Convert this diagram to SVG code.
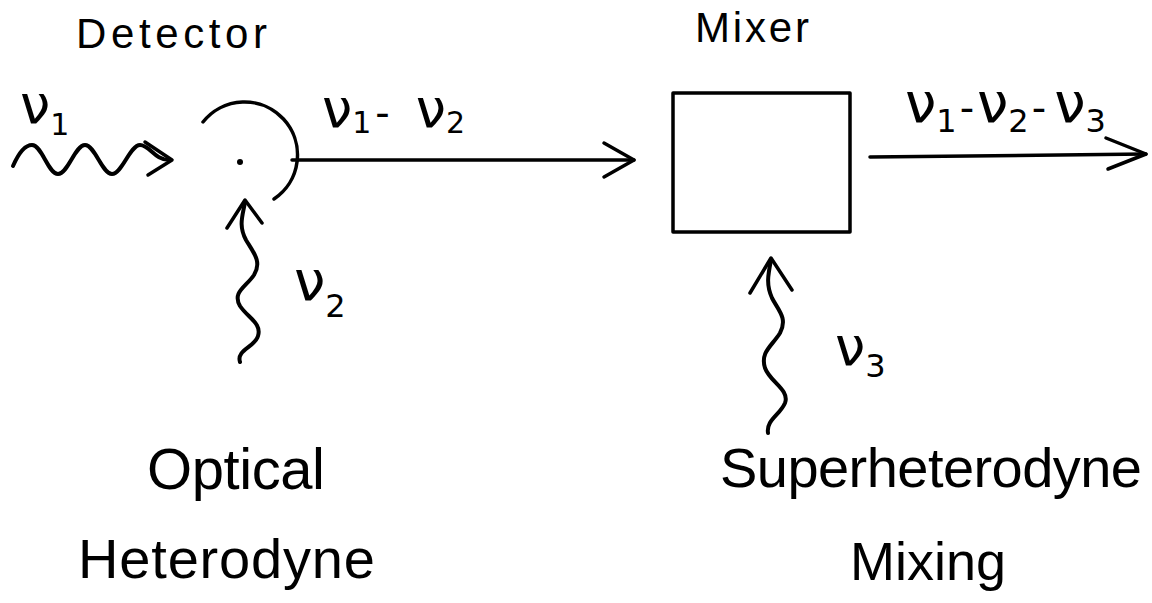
<svg xmlns="http://www.w3.org/2000/svg" width="1152" height="603" viewBox="0 0 1152 603">
<style>
.ln{fill:none;stroke:#000;stroke-width:3.5;stroke-linecap:round;stroke-linejoin:round}
.wv{fill:none;stroke:#000;stroke-width:4;stroke-linecap:round;stroke-linejoin:round}
.t{font-family:"Liberation Sans",Arial,sans-serif;fill:#000}
.g{font-family:"DejaVu Sans","Liberation Sans",sans-serif;fill:#000}
</style>
<rect width="1152" height="603" fill="#fff"/>
<g id="detector">
  <path class="ln" d="M203,122 A53,53 0 1 1 274,199"/>
  <circle cx="240" cy="162" r="3" fill="#000"/>
  <text class="t" x="76" y="48" font-size="42" textLength="191" lengthAdjust="spacing">Detector</text>
</g>
<g id="mixer">
  <rect class="ln" x="673" y="93" width="177" height="139" stroke-width="3"/>
  <text class="t" x="695" y="42" font-size="42" textLength="114" lengthAdjust="spacing">Mixer</text>
</g>
<g id="connectors">
  <path class="ln" d="M292,160 L634,160"/>
  <path class="ln" d="M604,143 L634,160 L604,177"/>
  <path class="ln" d="M870,157 L1146,154"/>
  <path class="ln" d="M1106,138 L1146,154 L1108,169"/>
  <path class="wv" d="M13,166 C20,150 26,145 32,145 C42,145 48,174 58,174 C68,174 75,145 85,145 C95,145 102,174 112,174 C122,174 130,145 140,145 C150,145 154,160 170,160"/>
  <path class="ln" d="M145,142 L172,160 L148,175"/>
  <path class="wv" d="M245,202 C243,215 238,225 246,240 C254,253 262,262 254,275 C246,287 232,292 240,306 C248,318 262,323 258,336 C255,347 236,350 240,362"/>
  <path class="ln" d="M227,228 L245,200 L262,223"/>
  <path class="wv" d="M771,260 C768,275 766,285 772,298 C778,310 788,318 780,333 C772,346 760,352 765,368 C770,382 790,390 785,403 C780,415 766,420 768,433"/>
  <path class="ln" d="M750,293 L771,258 L792,290"/>
</g>
<g id="labels">
  <text class="g" x="20" y="123" font-size="54">ν<tspan font-size="30" dy="12">1</tspan></text>
  <text class="g" x="322" y="127" font-size="54">ν<tspan font-size="30" dy="6">1</tspan><tspan font-size="40" dy="-6" dx="4">-</tspan><tspan dx="26">ν</tspan><tspan font-size="30" dy="6">2</tspan></text>
  <text class="g" x="294" y="300" font-size="56">ν<tspan font-size="32" dy="17">2</tspan></text>
  <text class="g" x="835" y="365" font-size="54">ν<tspan font-size="32" dy="12">3</tspan></text>
  <text class="g" x="905" y="122" font-size="56">ν<tspan font-size="32" dy="10">1</tspan><tspan font-size="40" dy="-10" dx="3">-</tspan><tspan dx="3">ν</tspan><tspan font-size="32" dy="10">2</tspan><tspan font-size="40" dy="-10" dx="3">-</tspan><tspan dx="8">ν</tspan><tspan font-size="32" dy="10">3</tspan></text>
  <text class="t" x="147" y="489" font-size="58" textLength="178" lengthAdjust="spacing">Optical</text>
  <text class="t" x="78" y="578" font-size="56" textLength="297" lengthAdjust="spacing">Heterodyne</text>
  <text class="t" x="720" y="487" font-size="56" textLength="422" lengthAdjust="spacing">Superheterodyne</text>
  <text class="t" x="928" y="580" font-size="54" text-anchor="middle">Mixing</text>
</g>
</svg>
